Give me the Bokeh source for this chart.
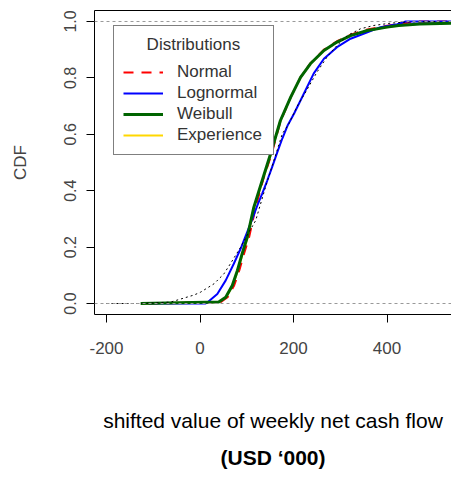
from bokeh.plotting import figure
from bokeh.models import (Range1d, FixedTicker, LinearAxis, Span, Legend, LegendItem,
                          Title, PrintfTickFormatter)
from bokeh.embed import file_html
from bokeh.resources import INLINE

# ---------------- data ----------------
X_TICKS = [-200, 0, 200, 400]
X_LABELS = ["-200", "0", "200", "400"]
Y_TICKS = [0.0, 0.2, 0.4, 0.6, 0.8, 1.0]
REF_LINES = [0.0, 1.0]

# Experience (hidden beneath the others)
exp_x = [-125, 41, 56, 70, 81, 91, 102, 116, 134, 152, 170, 194, 215, 236, 265, 293, 322, 358, 400, 425, 470, 540]
exp_y = [0.0, 0.005, 0.022, 0.064, 0.117, 0.176, 0.235, 0.341, 0.436, 0.531, 0.64, 0.732, 0.802, 0.85, 0.897, 0.927, 0.95, 0.968, 0.98, 0.986, 0.992, 0.995]

# Normal
norm_x = [-110, 44, 59, 73, 84, 94, 105, 119, 136, 154, 172, 195, 216, 237, 265, 293, 322, 358, 400, 430, 470, 540]
norm_y = [0.0, 0.005, 0.022, 0.064, 0.117, 0.176, 0.235, 0.341, 0.445, 0.535, 0.645, 0.735, 0.805, 0.853, 0.9, 0.93, 0.953, 0.972, 0.985, 0.993, 1.0, 1.0]

# Lognormal
logn_x = [-110, 12, 15, 37, 55, 72, 87, 100, 112, 122, 133, 144, 154, 165, 176, 187, 201, 222, 243, 265, 293, 322, 358, 386, 422, 440, 540]
logn_y = [0.0, 0.0, 0.003, 0.034, 0.082, 0.14, 0.195, 0.25, 0.3, 0.345, 0.39, 0.437, 0.483, 0.535, 0.585, 0.63, 0.673, 0.744, 0.815, 0.868, 0.909, 0.939, 0.962, 0.98, 0.99, 1.0, 1.0]

# Weibull
weib_x = [-127, 40, 55, 69, 80, 90, 101, 115, 133, 151, 172, 194, 215, 236, 265, 293, 322, 358, 400, 425, 470, 540]
weib_y = [0.0, 0.005, 0.022, 0.064, 0.117, 0.176, 0.235, 0.341, 0.436, 0.531, 0.649, 0.732, 0.802, 0.85, 0.897, 0.927, 0.95, 0.968, 0.98, 0.986, 0.991, 0.994]

# theoretical reference (black dotted)
theo_x = [-200, -130, -63, -13, 1, 30, 51, 65, 87, 100, 119, 140, 158, 176, 190, 208, 226, 250, 272, 293, 315, 343, 372, 407, 450, 540]
theo_y = [0.0, 0.0, 0.005, 0.03, 0.04, 0.07, 0.105, 0.141, 0.2, 0.24, 0.294, 0.412, 0.507, 0.602, 0.637, 0.7, 0.75, 0.82, 0.875, 0.915, 0.95, 0.974, 0.986, 0.994, 0.999, 1.0]

SERIES_LABELS = ["Normal", "Lognormal", "Weibull", "Experience"]

FONT = "Liberation Sans"

p = figure(width=451, height=478, output_backend="svg", toolbar_location=None,
           x_range=Range1d(-225.7, 537.9), y_range=Range1d(-0.039, 1.039),
           min_border_left=94, min_border_right=0, min_border_top=10, min_border_bottom=164,
           x_axis_label="shifted value of weekly net cash flow", y_axis_label="CDF")
p.outline_line_color = None
p.grid.visible = False
p.background_fill_color = "white"
p.border_fill_color = "white"

xa = p.below[0]
ya = p.left[0]

# top border line (an empty axis)
top = LinearAxis(ticker=FixedTicker(ticks=[]), major_tick_out=0, major_tick_in=0,
                 major_label_standoff=0, minor_tick_line_color=None, minor_tick_out=0,
                 axis_line_color="black", major_label_text_font_size="0px",
                 axis_label=None, axis_label_standoff=0)
p.add_layout(top, "above")

for yv in REF_LINES:
    p.add_layout(Span(location=yv, dimension="width", line_color="#999999",
                      line_dash="3 3", line_width=1))

r_exp = p.line(exp_x, exp_y, line_color="#FFD700", line_width=2)
r_norm = p.line(norm_x, norm_y, line_color="red", line_width=2, line_dash="10 8")
r_logn = p.line(logn_x, logn_y, line_color="blue", line_width=2)
r_weib = p.line(weib_x, weib_y, line_color="#006400", line_width=3)
r_theo = p.line(theo_x, theo_y, line_color="black", line_width=1, line_dash="2 3")

for ax in (xa, ya):
    ax.axis_line_color = "black"
    ax.axis_line_width = 1
    ax.major_tick_line_color = "black"
    ax.major_tick_out = 8
    ax.major_tick_in = 0
    ax.minor_tick_line_color = None
    ax.major_label_text_font = FONT
    ax.major_label_text_color = "#444444"
    ax.axis_label_text_font = FONT
    ax.axis_label_text_font_style = "normal"

xa.ticker = FixedTicker(ticks=X_TICKS)
xa.major_label_overrides = {t: s for t, s in zip(X_TICKS, X_LABELS)}
xa.major_label_text_font_size = "17px"
xa.major_label_standoff = 19
xa.axis_label_standoff = 52
xa.axis_label_text_font_size = "21px"
xa.axis_label_text_color = "black"

ya.ticker = FixedTicker(ticks=Y_TICKS)
ya.formatter = PrintfTickFormatter(format="%.1f")
ya.major_label_text_font_size = "16px"
ya.major_label_orientation = "vertical"
ya.major_label_standoff = 10
ya.axis_label_standoff = 32
ya.axis_label_text_font_size = "17px"
ya.axis_label_text_color = "#444444"

legend = Legend(
    items=[LegendItem(label=SERIES_LABELS[0], renderers=[r_norm]),
           LegendItem(label=SERIES_LABELS[1], renderers=[r_logn]),
           LegendItem(label=SERIES_LABELS[2], renderers=[r_weib]),
           LegendItem(label=SERIES_LABELS[3], renderers=[r_exp])],
    location=(19, 159), title="\u00a0\u00a0\u00a0\u00a0\u00a0Distributions",
    border_line_color="black", border_line_width=1,
    background_fill_color="white", background_fill_alpha=1.0,
    label_text_font=FONT, label_text_font_size="17px", label_text_color="#333333",
    title_text_font=FONT, title_text_font_size="17px", title_text_font_style="normal",
    title_text_color="#333333", title_standoff=7,
    glyph_width=40, glyph_height=20, label_height=20, label_width=87,
    label_standoff=14, padding=9, spacing=1, margin=0)
p.add_layout(legend, "center")

sub = Title(text="(USD \u2018000)", align="center", text_font=FONT, text_font_size="21px",
            text_font_style="bold", text_color="black", standoff=18)
p.add_layout(sub, "below")

open("out.html", "w").write(file_html(p, INLINE))
